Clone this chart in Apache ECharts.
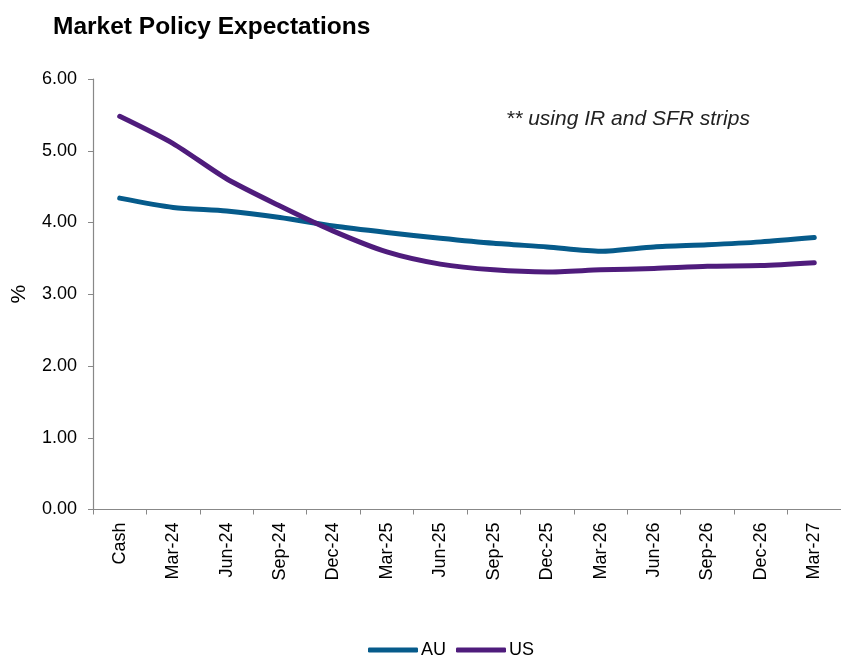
<!DOCTYPE html>
<html>
<head>
<meta charset="utf-8">
<script src="https://cdn.jsdelivr.net/npm/echarts@6/dist/echarts.min.js"></script>
<style>
html,body{margin:0;padding:0;background:#fff;}
#chart{width:841px;height:656px;}
</style>
</head>
<body>
<div id="chart"></div>
<script>
var categories = ["Cash","Mar-24","Jun-24","Sep-24","Dec-24","Mar-25","Jun-25","Sep-25","Dec-25","Mar-26","Jun-26","Sep-26","Dec-26","Mar-27"];
var auValues = [4.34, 4.21, 4.16, 4.07, 3.95, 3.86, 3.78, 3.71, 3.66, 3.60, 3.66, 3.69, 3.73, 3.79];
var usValues = [5.48, 5.10, 4.61, 4.23, 3.88, 3.59, 3.42, 3.34, 3.31, 3.34, 3.36, 3.39, 3.40, 3.44];
var yTicks = {min: 0, max: 6, interval: 1};
var titleText = "Market Policy Expectations";
var noteText = "** using IR and SFR strips";

var font = "Liberation Sans, Arial, sans-serif";
var chart = echarts.init(document.getElementById('chart'), null, {renderer: 'canvas'});
chart.setOption({
  animation: false,
  backgroundColor: '#fff',
  title: {
    text: titleText, left: 48, top: 10,
    textStyle: {fontFamily: font, fontWeight: 'bold', fontSize: 24.5, color: '#000'}
  },
  graphic: [{
    type: 'text', left: 506, top: 109,
    style: {text: noteText, fontFamily: font, fontStyle: 'italic', fontSize: 21, fill: '#222'}
  }],
  legend: {
    left: 363, top: 636,
    itemWidth: 50, itemHeight: 5, itemGap: 10,
    icon: 'roundRect',
    textStyle: {fontFamily: font, fontSize: 18, color: '#000', padding: [0,0,0,-2]},
    data: ['AU','US']
  },
  grid: {left: 93, top: 79, width: 750, height: 430.5, containLabel: false},
  xAxis: {
    type: 'category', data: categories, boundaryGap: true,
    axisLine: {lineStyle: {color: '#888', width: 1.2}},
    axisTick: {show: true, length: 5, lineStyle: {color: '#888'}},
    axisLabel: {rotate: 90, fontFamily: font, fontSize: 18, color: '#000', margin: 13, interval: 0}
  },
  yAxis: {
    type: 'value', min: yTicks.min, max: yTicks.max, interval: yTicks.interval,
    name: '%', nameLocation: 'middle', nameGap: 63, nameRotate: 90,
    nameTextStyle: {fontFamily: font, fontSize: 21, color: '#000'},
    axisLine: {show: true, lineStyle: {color: '#888', width: 1.2}},
    axisTick: {show: true, length: 5, lineStyle: {color: '#888'}},
    splitLine: {show: false},
    axisLabel: {fontFamily: font, fontSize: 18, color: '#000', margin: 16,
      formatter: function(v){ return v.toFixed(2); }}
  },
  series: [
    {name: 'AU', type: 'line', data: auValues, smooth: 0.25, symbol: 'none',
     lineStyle: {width: 5, color: '#065b8b', cap: 'round', join: 'round'}, itemStyle: {color: '#065b8b'}},
    {name: 'US', type: 'line', data: usValues, smooth: 0.25, symbol: 'none',
     lineStyle: {width: 5, color: '#4f1c7c', cap: 'round', join: 'round'}, itemStyle: {color: '#4f1c7c'}}
  ]
});
</script>
</body>
</html>
